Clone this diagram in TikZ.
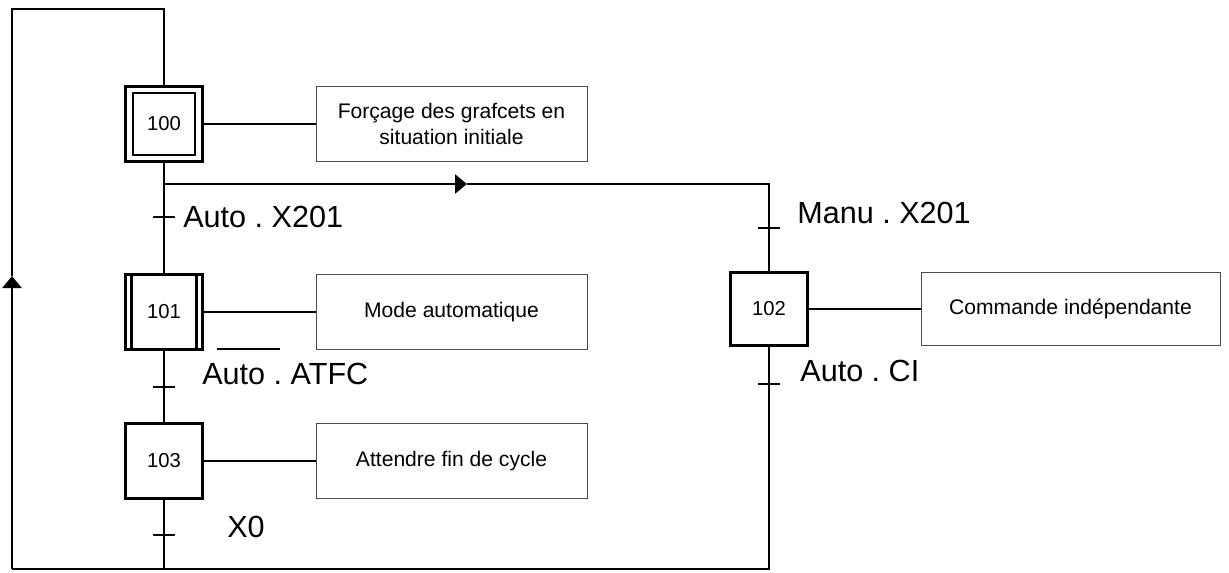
\documentclass[tikz,border=0pt]{standalone}
\usepackage{fontspec}
\setmainfont{Liberation Sans}
\usetikzlibrary{arrows.meta, positioning}
\frenchspacing

\tikzset{
    etape/.style={draw, line width=1.2pt, minimum width=1.54cm, minimum height=1.5cm, inner sep=0pt, font=\fontsize{11.5}{13}\selectfont},
    action/.style={draw=black!70, line width=0.5pt, minimum width=5.42cm, minimum height=1.5cm, align=center, font=\fontsize{12}{14.5}\selectfont},
    recept/.style={inner sep=0pt, anchor=base west, font=\fontsize{17.4}{20}\selectfont},
    lien/.style={line width=1.3pt},
    fleche/.style={-{Triangle[length=0.24cm, width=0.38cm]}},
}

\begin{document}
\begin{tikzpicture}[x=0.02cm, y=-0.02cm]
    \useasboundingbox (0,0) rectangle (1229,572);

    % --- etapes ---
    \node[etape] (s100) at (164,124) {};
    \node[etape, minimum width=1.24cm, minimum height=1.24cm] (s100in) at (s100) {100};
    \node[etape] (s101) at (164,312) {101};
    \draw[line width=1.2pt] ([xshift=0.14cm]s101.north west) -- ([xshift=0.14cm]s101.south west);
    \draw[line width=1.2pt] ([xshift=-0.14cm]s101.north east) -- ([xshift=-0.14cm]s101.south east);
    \node[etape] (s103) at (164,461) {103};
    \node[etape, minimum height=1.46cm] (s102) at (769,309) {102};

    % --- actions ---
    \node[action] (a100) at (451.5,124) {Forçage des grafcets en\\situation initiale};
    \node[action] (a101) at (451.5,312) {Mode automatique};
    \node[action] (a103) at (451.5,461) {Attendre fin de cycle};
    \node[action, minimum width=5.98cm, minimum height=1.46cm] (a102) at (1070.5,309) {Commande indépendante};
    \draw[lien] (s100) -- (a100);
    \draw[lien] (s101) -- (a101);
    \draw[lien] (s103) -- (a103);
    \draw[lien] (s102) -- (a102);

    % --- liaisons ---
    \coordinate (haut) at (12,9);
    \coordinate (bg) at (12,569);
    \coordinate (fl) at (12,276);
    \coordinate (div) at (164,184);
    \coordinate (fm) at (467,184);
    \coordinate (divd) at (769,184);
    \draw[lien] (s100) -- (s101) -- (s103) -- (s103 |- bg);
    \draw[lien, fleche] (div) -- (fm);
    \draw[lien] (fm) -- (divd) -- (s102);
    \draw[lien] (s102) -- (s102 |- bg) -- (bg);
    \draw[lien, fleche] (bg) -- (fl);
    \draw[lien] (fl) -- (haut) -- (haut -| s100) -- (s100);

    % --- transitions ---
    \foreach \t in {(164,217), (164,387), (164,535), (769,228), (769,384)}
        \draw[lien] \t ++(-11,0) -- ++(22,0);

    \node[recept] (r1) at (183,227) {Auto . X201};
    \node[recept] (r2) at (202,384) {Auto . ATFC};
    \draw[lien] (217,349) -- (280,349);
    \node[recept] (r3) at (227,537) {X0};
    \node[recept] (r4) at (797,223) {Manu . X201};
    \node[recept] (r5) at (800,381) {Auto . CI};
\end{tikzpicture}
\end{document}
